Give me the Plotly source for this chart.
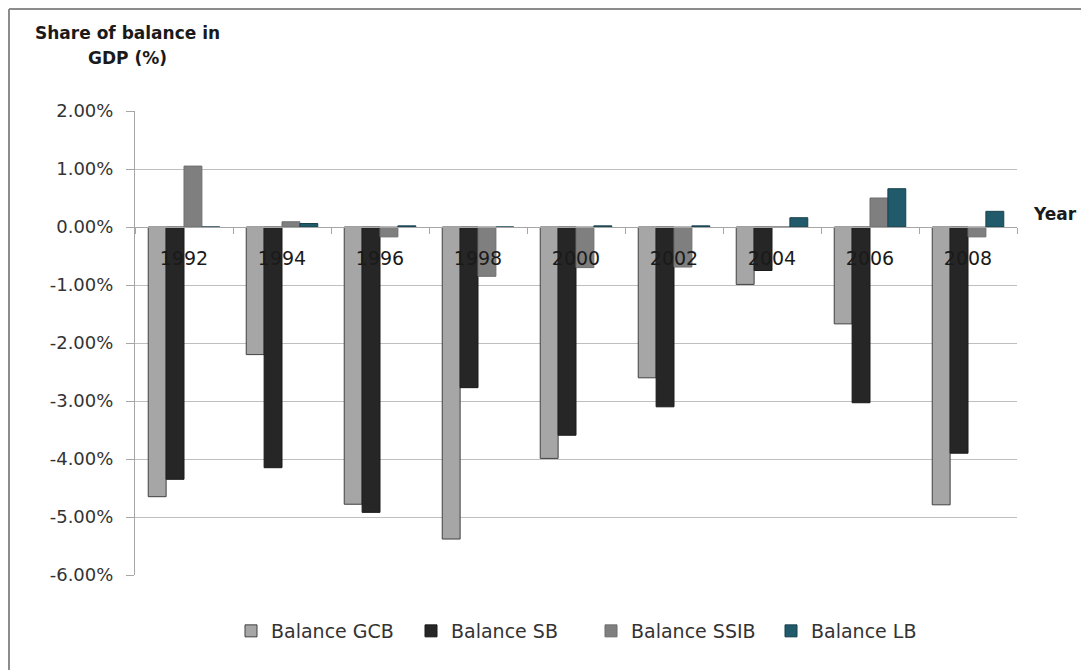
import plotly.graph_objects as go

years = ["1992", "1994", "1996", "1998", "2000", "2002", "2004", "2006", "2008"]
gcb = [-4.65, -2.20, -4.78, -5.38, -3.99, -2.60, -0.99, -1.67, -4.79]
sb = [-4.35, -4.15, -4.92, -2.77, -3.59, -3.10, -0.75, -3.03, -3.90]
ssib = [1.05, 0.09, -0.17, -0.85, -0.70, -0.69, 0.0, 0.50, -0.17]
lb = [0.0, 0.06, 0.02, 0.0, 0.02, 0.02, 0.16, 0.66, 0.27]
series_names = ["Balance GCB", "Balance SB", "Balance SSIB", "Balance LB"]
y_ticks = [0.02, 0.01, 0.0, -0.01, -0.02, -0.03, -0.04, -0.05, -0.06]
y_tick_text = [f"{v * 100:.2f}%" for v in y_ticks]

fills = ["#a6a6a6", "#262626", "#7f7f7f", "#215a6b"]
edges = ["#404040", "#1a1a1a", "#6e6e6e", "#17404c"]

fig = go.Figure()
for name, vals, fc, ec in zip(series_names, [gcb, sb, ssib, lb], fills, edges):
    fig.add_trace(go.Bar(
        x=years, y=[v / 100 for v in vals], name=name,
        marker=dict(color=fc, line=dict(color=ec, width=1)),
    ))

# the page body has an 8px margin; figure sized to fill the rest of the window
OFF = 8
W, H = 1089 - OFF, 670 - OFF
L, R, T, B = 135 - OFF, 72, 111 - OFF, 95
pw, ph = W - L - R, H - T - B

def px_x(p):  # page pixel -> paper
    return (p - OFF - L) / pw

def px_y(p):
    return (OFF + H - B - p) / ph

fig.update_layout(
    width=W, height=H,
    margin=dict(l=L, r=R, t=T, b=B, pad=0),
    paper_bgcolor="white", plot_bgcolor="white",
    barmode="group", bargap=0.27, bargroupgap=0,
    font=dict(family="DejaVu Sans", size=18, color="#333333"),
    xaxis=dict(
        anchor="free", position=0.75,
        showline=True, linecolor="#a6a6a6", linewidth=1,
        ticks="outside", ticklen=6, tickcolor="#a6a6a6", tickson="boundaries",
        showgrid=False, zeroline=False,
        tickfont=dict(family="DejaVu Sans", size=19, color="#1a1a1a"),
        ticklabelstandoff=14,
    ),
    yaxis=dict(
        range=[-0.06, 0.02], tickvals=y_ticks, ticktext=y_tick_text,
        showline=True, linecolor="#a6a6a6", linewidth=1,
        ticks="outside", ticklen=8, tickcolor="#a6a6a6",
        showgrid=True, gridcolor="#bfbfbf", gridwidth=1, zeroline=False,
        tickfont=dict(family="DejaVu Sans", size=18, color="#333333"),
        ticklabelstandoff=9,
    ),
    legend=dict(
        orientation="h", x=0.5 + 15 / pw, xanchor="center", y=px_y(631), yanchor="middle",
        font=dict(family="DejaVu Sans", size=19, color="#333333"),
        entrywidth=135, entrywidthmode="pixels",
        bgcolor="rgba(0,0,0,0)",
    ),
    showlegend=True,
)

title_font = dict(family="DejaVu Sans", size=17, color="#1a1a1a")
fig.add_annotation(text="<b>Share of balance in</b>", xref="paper", yref="paper",
                   x=px_x(127), y=px_y(33), xanchor="center", yanchor="middle",
                   showarrow=False, font=title_font)
fig.add_annotation(text="<b>GDP (%)</b>", xref="paper", yref="paper",
                   x=px_x(127), y=px_y(58), xanchor="center", yanchor="middle",
                   showarrow=False, font=title_font)
fig.add_annotation(text="<b>Year</b>", xref="paper", yref="paper",
                   x=px_x(1031), y=px_y(214), xanchor="left", yanchor="middle",
                   showarrow=False, font=title_font)

# outer frame (left and top edges)
fig.add_shape(type="line", xref="paper", yref="paper",
              x0=px_x(9), x1=px_x(9), y0=px_y(672), y1=px_y(9),
              line=dict(color="#8c8c8c", width=2))
fig.add_shape(type="line", xref="paper", yref="paper",
              x0=px_x(9), x1=px_x(1091), y0=px_y(9), y1=px_y(9),
              line=dict(color="#8c8c8c", width=2))

fig.write_html("out.html")
